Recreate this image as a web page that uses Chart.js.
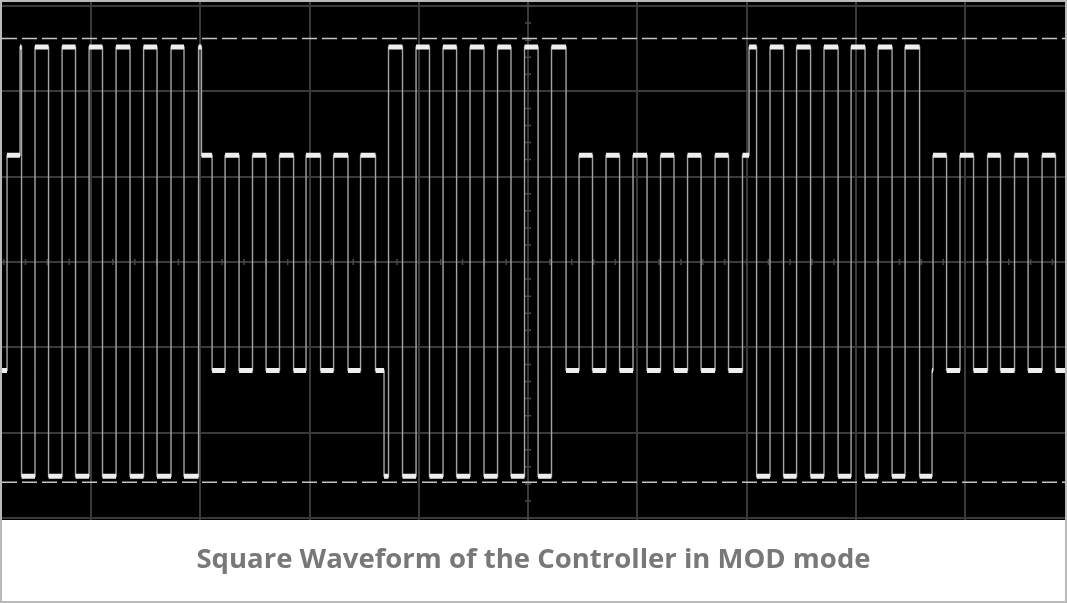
<!DOCTYPE html>
<html>
<head>
<meta charset="utf-8">
<title>Square Waveform of the Controller in MOD mode</title>
<script src="https://cdn.jsdelivr.net/npm/chart.js@4.4.1/dist/chart.umd.min.js"></script>
<style>
  html, body { margin: 0; padding: 0; background: #fff; }
  #wrap { width: 1067px; height: 603px; box-sizing: border-box; border: 2px solid #b9b9b9; }
  #chart { display: block; }
</style>
</head>
<body>
<div id="wrap"><canvas id="chart" width="1063" height="599"></canvas></div>
<script>
//-------------------- DATA --------------------
// voltage levels of the flat parts, in screen divisions from the centre line
const levelNames = ['high', 'mid high', 'mid low', 'low'];
const levelValues = [2.52, 1.25, -1.27, -2.51];

// trace starts at the left edge of the screen on this level
const startTime = 0.185;
const startLevel = 2;
const endTime = 9.915;

// time of each edge (divisions from the left of the graticule) and the level it goes to
const edgeTimes = [
  0.231, 0.350, 0.364, 0.487, 0.611, 0.735, 0.858, 0.982, 1.105, 1.229, 1.357, 1.481, 1.604, 1.732, 1.851, 1.984,
  2.011, 2.108, 2.227, 2.355, 2.478, 2.602, 2.725, 2.854, 2.968, 3.101, 3.220, 3.352, 3.467, 3.604,
  3.682, 3.723, 3.851, 3.975, 4.098, 4.222, 4.346, 4.469, 4.597, 4.721, 4.844, 4.968, 5.092, 5.215,
  5.348, 5.467, 5.590, 5.714, 5.838, 5.961, 6.089, 6.213, 6.336, 6.460, 6.584, 6.712, 6.835, 6.963,
  7.023, 7.092, 7.215, 7.339, 7.458, 7.586, 7.709, 7.838, 7.957, 8.085, 8.204, 8.332, 8.451, 8.584,
  8.698, 8.707, 8.831, 8.954, 9.078, 9.206, 9.325, 9.453, 9.577, 9.705, 9.828
];
const edgeLevels = [
  1, 0, 3, 0, 3, 0, 3, 0, 3, 0, 3, 0, 3, 0, 3, 0,
  1, 2, 1, 2, 1, 2, 1, 2, 1, 2, 1, 2, 1, 2,
  3, 0, 3, 0, 3, 0, 3, 0, 3, 0, 3, 0, 3, 0,
  2, 1, 2, 1, 2, 1, 2, 1, 2, 1, 2, 1, 2, 1,
  0, 3, 0, 3, 0, 3, 0, 3, 0, 3, 0, 3, 0, 3,
  2, 1, 2, 1, 2, 1, 2, 1, 2, 1, 2
];

// the two dashed cursors
const cursorLevels = [2.62, -2.58];

//-------------------- BUILD POINTS --------------------
const times = [startTime].concat(edgeTimes);
const levels = [startLevel].concat(edgeLevels);

// stepped trace: thin vertical edges
const tracePoints = times.map((t, i) => ({ x: t, y: levelValues[levels[i]] }));
tracePoints.push({ x: endTime, y: levelValues[levels[levels.length - 1]] });

// flat tops, drawn brighter like on the scope screen
const flatPoints = [];
times.forEach((t, i) => {
  const next = i + 1 < times.length ? times[i + 1] : endTime;
  const v = levelValues[levels[i]];
  flatPoints.push({ x: t, y: v }, { x: next, y: v }, { x: next, y: null });
});

const cursorSets = cursorLevels.map(v => ({
  label: 'cursor',
  data: [{ x: startTime, y: v }, { x: endTime, y: v }],
  borderColor: '#c4c4c4',
  borderWidth: 1.5,
  borderDash: [15, 5],
  pointRadius: 0,
  order: 2
}));

//-------------------- PLUGIN --------------------
const scopeScreen = {
  id: 'scopeScreen',
  beforeDraw(chart) {
    const { ctx, chartArea: a } = chart;
    ctx.save();
    ctx.fillStyle = '#000';
    ctx.fillRect(a.left, a.top, a.right - a.left, a.bottom - a.top);
    ctx.restore();
  },
  beforeDatasetsDraw(chart) {
    // small marks on the two centre lines
    const { ctx, scales: { x, y } } = chart;
    const cx = x.getPixelForValue(5), cy = y.getPixelForValue(0);
    ctx.save();
    ctx.strokeStyle = '#4a4a4a';
    ctx.lineWidth = 1.5;
    ctx.beginPath();
    for (let v = -3; v <= 3.001; v += 0.2) {
      const py = y.getPixelForValue(v);
      ctx.moveTo(cx - 3, py); ctx.lineTo(cx + 3, py);
    }
    for (let v = 0; v <= 10.001; v += 0.2) {
      const px = x.getPixelForValue(v);
      ctx.moveTo(px, cy - 3); ctx.lineTo(px, cy + 3);
    }
    ctx.stroke();
    ctx.restore();
  }
};

//-------------------- CONFIG --------------------
const gridStyle = { color: '#3a3a3a', lineWidth: 2, drawTicks: false };

const config = {
  type: 'line',
  data: {
    datasets: [
      {
        label: 'flat',
        data: flatPoints,
        borderColor: '#eeeeee',
        borderWidth: 5,
        borderCapStyle: 'butt',
        spanGaps: false,
        pointRadius: 0,
        order: 0
      },
      {
        label: 'trace',
        data: tracePoints,
        stepped: 'before',
        borderColor: '#a4a4a4',
        borderWidth: 1.4,
        pointRadius: 0,
        order: 1
      },
      ...cursorSets
    ]
  },
  options: {
    responsive: false,
    animation: false,
    layout: { padding: 0 },
    scales: {
      x: {
        type: 'linear',
        min: startTime,
        max: endTime,
        ticks: { display: false, stepSize: 1, includeBounds: false },
        grid: gridStyle,
        border: { display: false }
      },
      y: {
        min: -3.023,
        max: 3.047,
        ticks: { display: false, stepSize: 1, includeBounds: false },
        grid: gridStyle,
        border: { display: false }
      }
    },
    plugins: {
      legend: { display: false },
      tooltip: { enabled: false },
      title: {
        display: true,
        position: 'bottom',
        text: 'Square Waveform of the Controller in MOD mode',
        color: '#787878',
        font: { family: "'Open Sans', 'Noto Sans', sans-serif", size: 27.5, weight: 'bold' },
        padding: { top: 23.5, bottom: 24.5 }
      }
    }
  },
  plugins: [scopeScreen]
};

//-------------------- RENDER --------------------
const myChart = new Chart(document.getElementById('chart'), config);
</script>
</body>
</html>
